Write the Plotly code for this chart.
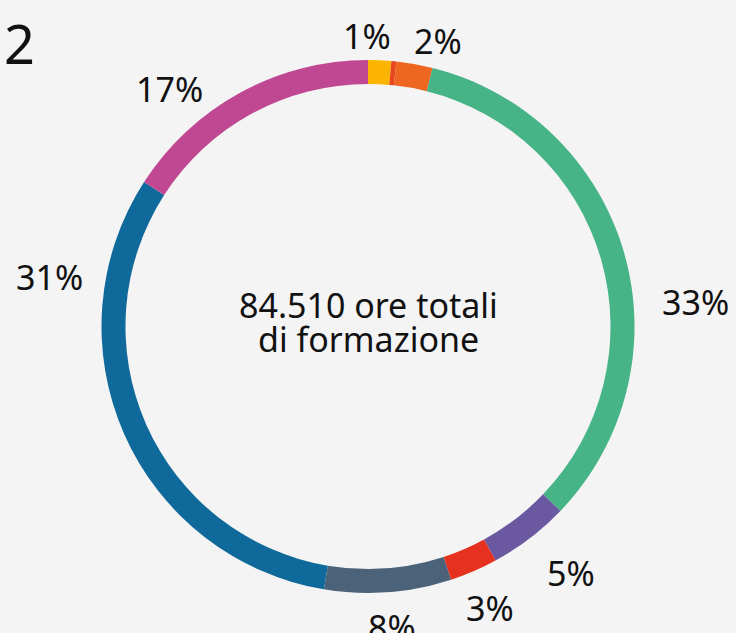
import plotly.graph_objects as go

# Data (share of training hours, read from the ring)
categories = ["A", "B", "C", "D", "E", "F", "G", "H", "I"]
values = [1.4, 0.3, 2.2, 33.3, 4.9, 2.9, 7.7, 31.5, 15.9]
labels_text = ["1%", "", "2%", "33%", "5%", "3%", "8%", "31%", "17%"]
colors = ["#fbb500", "#e8461e", "#ee661f", "#47b487", "#6a58a0",
          "#e5311d", "#4c6279", "#10699b", "#c04893"]
center_lines = ["84.510 ore totali", "di formazione"]
panel_number = "2"

W, H = 736, 633
cx, cy, R = 368, 326.5, 266.5

fig = go.Figure()
fig.add_trace(go.Pie(
    labels=categories,
    values=values,
    sort=False,
    direction="clockwise",
    rotation=0,
    hole=0.91,
    marker=dict(colors=colors, line=dict(width=0)),
    textinfo="none",
    hoverinfo="label+percent",
    showlegend=False,
    domain=dict(x=[(cx - R) / W, (cx + R) / W],
                y=[(H - cy - R) / H, (H - cy + R) / H]),
))

font_family = "Noto Sans, Open Sans, sans-serif"
label_pos = {  # pixel positions of label centers (layout only)
    "1%": (367, 36),
    "2%": (438, 41),
    "33%": (695, 302),
    "5%": (571, 573),
    "3%": (490, 608),
    "8%": (392, 627),
    "31%": (49, 277),
    "17%": (169, 89),
}
annotations = []
for t in labels_text:
    if not t:
        continue
    x, y = label_pos[t]
    annotations.append(dict(x=x / W, y=1 - y / H, xref="paper", yref="paper",
                            text=t, showarrow=False, xanchor="center", yanchor="middle",
                            font=dict(size=34, color="#111111", family=font_family)))
for line, y in zip(center_lines, [305, 339]):
    annotations.append(dict(x=cx / W, y=1 - y / H, xref="paper", yref="paper",
                            text=line, showarrow=False, xanchor="center", yanchor="middle",
                            borderpad=0,
                            font=dict(size=34, color="#111111", family=font_family)))
annotations.append(dict(x=2 / W, y=1 - 4 / H, xref="paper", yref="paper",
                        text=panel_number, showarrow=False, xanchor="left", yanchor="top",
                        font=dict(size=54, color="#111111", family=font_family)))

fig.update_layout(
    width=W, height=H,
    margin=dict(l=0, r=0, t=0, b=0),
    paper_bgcolor="#f4f4f4",
    plot_bgcolor="#f4f4f4",
    annotations=annotations,
)

fig.write_html("out.html", config={"displayModeBar": False},
               post_script="document.body.style.margin='0';document.body.style.background='#f4f4f4';")
